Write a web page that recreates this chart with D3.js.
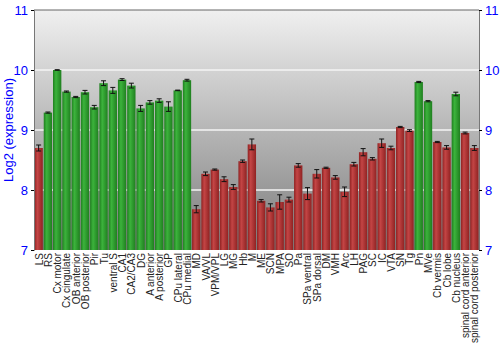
<!DOCTYPE html>
<html lang="en">
<head>
<meta charset="UTF-8">
<title>Log2 expression by region</title>
<script src="https://d3js.org/d3.v7.min.js"></script>
<style>
  body { margin: 0; background: #fff; }
  svg text { font-family: "Liberation Sans", Arial, sans-serif; }
  .ylab { fill: #0000ff; font-size: 13px; }
  .xlab { fill: #222; font-size: 10px; }
</style>
</head>
<body>
<div id="chart"></div>
<script>
// region names, in plotted order
const regions = ["LS", "RS", "Cx motor", "Cx cingulate", "OB anterior", "OB posterior", "Pir", "Tu",
  "ventral S", "CA1", "CA2/CA3", "DG", "A anterior", "A posterior", "GP", "CPu lateral", "CPu medial",
  "MD", "VA/VL", "VPM/VPL", "LG", "MG", "Hb", "M", "ME", "SCN", "MPA", "SO", "Pa", "SPa ventral",
  "SPa dorsal", "DM", "VMH", "Arc", "LH", "PAG", "SC", "IC", "VTA", "SN", "Tg", "Pn", "MVe",
  "Cb vermis", "Cb lobe", "Cb nucleus", "spinal cord anterior", "spinal cord posterior"];

// mean log2 expression
const values = [8.70, 9.29, 10.00, 9.64, 9.55, 9.63, 9.38, 9.78, 9.66, 9.84, 9.74, 9.36, 9.46, 9.49,
  9.39, 9.66, 9.83, 7.68, 8.27, 8.34, 8.18, 8.05, 8.48, 8.76, 7.82, 7.71, 7.80, 7.84, 8.41, 7.94,
  8.27, 8.37, 8.21, 7.97, 8.43, 8.63, 8.52, 8.78, 8.70, 9.05, 8.99, 9.80, 9.48, 8.80, 8.71, 9.60,
  8.95, 8.70];

// standard error
const errors = [0.05, 0.01, 0.005, 0.01, 0.01, 0.03, 0.03, 0.04, 0.05, 0.015, 0.04, 0.05, 0.03, 0.03,
  0.08, 0.005, 0.015, 0.06, 0.03, 0.01, 0.04, 0.04, 0.02, 0.09, 0.02, 0.06, 0.12, 0.04, 0.03, 0.10,
  0.07, 0.01, 0.03, 0.08, 0.03, 0.06, 0.02, 0.07, 0.03, 0.01, 0.015, 0.01, 0.01, 0.01, 0.03, 0.03,
  0.015, 0.04];

// 1 = high (green), 0 = low (red)
const high = [0, 1, 1, 1, 1, 1, 1, 1, 1, 1, 1, 1, 1, 1, 1, 1, 1, 0, 0, 0, 0, 0, 0, 0, 0, 0, 0, 0, 0, 0,
  0, 0, 0, 0, 0, 0, 0, 0, 0, 0, 0, 1, 1, 0, 0, 1, 0, 0];

const yTicks = [7, 8, 9, 10, 11];

const W = 500, H = 350;
const margin = {top: 10, right: 21, bottom: 100, left: 34};
const width = W - margin.left - margin.right,
      height = H - margin.top - margin.bottom;

const svg = d3.select("#chart").append("svg")
    .attr("width", W)
    .attr("height", H);

const defs = svg.append("defs");

const bg = defs.append("linearGradient").attr("id", "bg")
    .attr("x1", 0).attr("y1", 0).attr("x2", 0).attr("y2", 1);
bg.append("stop").attr("offset", "0%").attr("stop-color", "#f0f0f0");
bg.append("stop").attr("offset", "100%").attr("stop-color", "#7c7c7c");

function barGrad(id, edge, mid) {
  const g = defs.append("linearGradient").attr("id", id)
      .attr("x1", 0).attr("y1", 0).attr("x2", 1).attr("y2", 0);
  g.append("stop").attr("offset", "0%").attr("stop-color", edge);
  g.append("stop").attr("offset", "35%").attr("stop-color", mid);
  g.append("stop").attr("offset", "100%").attr("stop-color", edge);
}
barGrad("gGreen", "#1f7f1f", "#3cb33c");
barGrad("gRed", "#8f2222", "#c44545");

const g = svg.append("g")
    .attr("transform", `translate(${margin.left},${margin.top})`);

const x = d3.scaleBand()
    .domain(regions)
    .range([0, width])
    .paddingInner(0.1)
    .paddingOuter(0.05);

const y = d3.scaleLinear()
    .domain([7, 11])
    .range([height, 0]);

g.append("rect")
    .attr("width", width)
    .attr("height", height)
    .attr("fill", "url(#bg)");

// grid lines
g.selectAll("line.grid")
    .data(yTicks.slice(1, -1))
    .join("line")
    .attr("class", "grid")
    .attr("x1", 0).attr("x2", width)
    .attr("y1", d => y(d)).attr("y2", d => y(d))
    .attr("stroke", "#f4f4f4")
    .attr("stroke-width", 1.5);

// bars
g.selectAll("rect.bar")
    .data(regions)
    .join("rect")
    .attr("class", "bar")
    .attr("x", d => x(d))
    .attr("width", x.bandwidth())
    .attr("y", (d, i) => y(values[i]))
    .attr("height", (d, i) => height - y(values[i]))
    .attr("fill", (d, i) => high[i] ? "url(#gGreen)" : "url(#gRed)");

// error bars
const eb = g.selectAll("g.err")
    .data(regions)
    .join("g")
    .attr("class", "err")
    .attr("stroke", "#111")
    .attr("stroke-width", 1);

const cx = d => x(d) + x.bandwidth() / 2;
eb.append("line")
    .attr("x1", cx).attr("x2", cx)
    .attr("y1", (d, i) => y(values[i] + errors[i]))
    .attr("y2", (d, i) => y(values[i] - errors[i]));
eb.append("line")
    .attr("x1", d => cx(d) - 2.5).attr("x2", d => cx(d) + 2.5)
    .attr("y1", (d, i) => y(values[i] + errors[i]))
    .attr("y2", (d, i) => y(values[i] + errors[i]));
eb.append("line")
    .attr("x1", d => cx(d) - 2.5).attr("x2", d => cx(d) + 2.5)
    .attr("y1", (d, i) => y(values[i] - errors[i]))
    .attr("y2", (d, i) => y(values[i] - errors[i]));

// frame
g.append("line").attr("x1", 0).attr("x2", width).attr("y1", 0).attr("y2", 0)
    .attr("stroke", "#666");

// axes
const left = g.append("g")
    .call(d3.axisLeft(y).tickValues(yTicks).tickFormat(d3.format("d")).tickSize(3));
const right = g.append("g")
    .attr("transform", `translate(${width},0)`)
    .call(d3.axisRight(y).tickValues(yTicks).tickFormat(d3.format("d")).tickSize(3));
[left, right].forEach(a => {
  a.select(".domain").attr("stroke", "#777");
  a.selectAll(".tick line").attr("stroke", "#000");
  a.selectAll(".tick text").attr("class", "ylab").attr("font-family", null).attr("font-size", null);
});

// x labels
g.selectAll("text.xlab")
    .data(regions)
    .join("text")
    .attr("class", "xlab")
    .attr("text-anchor", "end")
    .attr("transform", d => `translate(${cx(d) + 4},${height + 3}) rotate(-90)`)
    .text(d => d);

// y axis title
svg.append("text")
    .attr("class", "ylab")
    .attr("font-size", "12px")
    .attr("text-anchor", "middle")
    .attr("transform", `translate(13,${margin.top + height / 2}) rotate(-90)`)
    .text("Log2 (expression)");
</script>
</body>
</html>
